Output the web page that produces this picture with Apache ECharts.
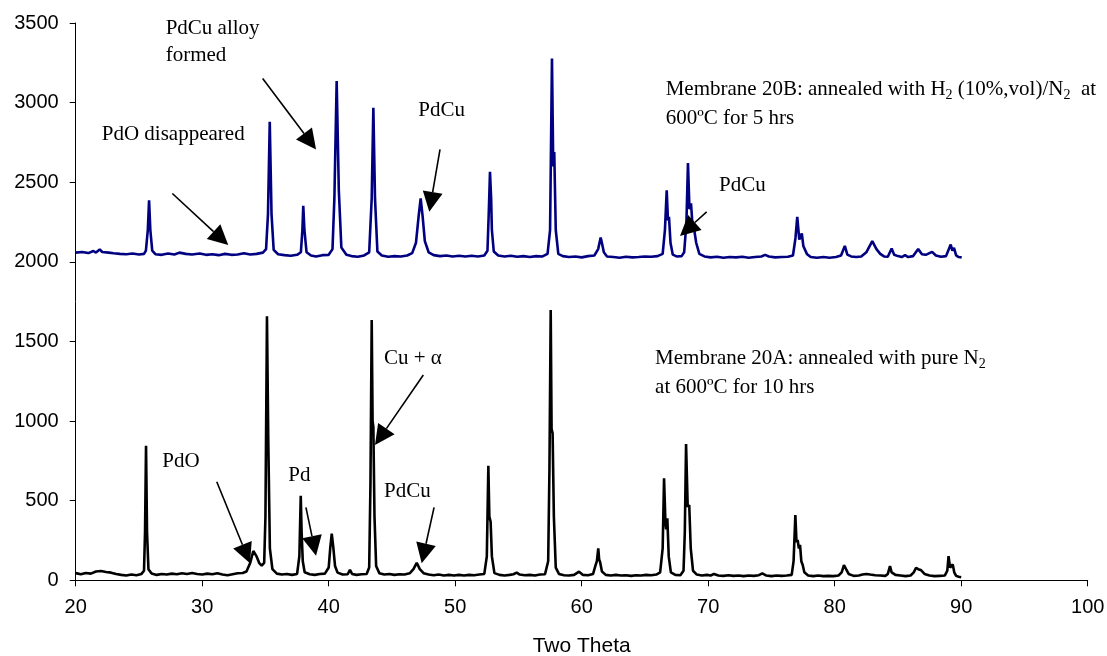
<!DOCTYPE html>
<html>
<head>
<meta charset="utf-8">
<script src="https://cdn.jsdelivr.net/npm/echarts@6/dist/echarts.min.js"></script>
<style>
  html, body { margin: 0; padding: 0; background: #fff; }
  #chart { width: 1107px; height: 656px; }
</style>
</head>
<body>
<div id="chart"></div>
<script>
// XRD patterns of the two PdCu membranes: [two theta, counts]
const membrane20B = [
  [20, 2058], [20.5, 2062], [21, 2055], [21.4, 2068], [21.6, 2058], [21.9, 2078], [22.1, 2062], [22.6, 2058],
  [23, 2054], [23.5, 2050], [24, 2048], [24.5, 2052], [25, 2046], [25.4, 2050],
  [25.55, 2070], [25.7, 2200], [25.8, 2387], [25.9, 2200], [26.05, 2070], [26.3, 2048],
  [26.8, 2044], [27.3, 2052], [27.8, 2046], [28.2, 2058], [28.7, 2050], [29.2, 2046], [29.8, 2052], [30.3, 2044],
  [30.8, 2048], [31.3, 2042], [31.8, 2050], [32.3, 2044], [32.8, 2046], [33.3, 2054], [33.8, 2046], [34.3, 2050],
  [34.8, 2058], [35.05, 2080],
  [35.2, 2300], [35.34, 2879], [35.48, 2300], [35.65, 2075], [36, 2048], [36.5, 2042], [37, 2038], [37.5, 2044], [37.8, 2060],
  [37.92, 2200], [37.99, 2352], [38.08, 2200], [38.25, 2060], [38.6, 2040], [39, 2034], [39.5, 2042], [40, 2044], [40.3, 2080],
  [40.45, 2400], [40.63, 3136], [40.8, 2450], [41, 2090], [41.4, 2045], [41.8, 2036], [42.3, 2032], [42.8, 2040], [43.2, 2060],
  [43.4, 2400], [43.53, 2967], [43.66, 2400], [43.85, 2065], [44.2, 2040], [44.7, 2032], [45.2, 2036], [45.7, 2034],
  [46.2, 2040], [46.6, 2055], [46.9, 2120],
  [47.1, 2280], [47.27, 2398], [47.42, 2290], [47.6, 2130], [47.9, 2060], [48.3, 2042], [48.8, 2036], [49.3, 2040],
  [49.8, 2034], [50.3, 2038], [50.8, 2034], [51.3, 2038], [51.8, 2034], [52.3, 2040], [52.55, 2070],
  [52.65, 2300], [52.75, 2565], [52.84, 2400], [52.9, 2200], [53.05, 2065], [53.4, 2040], [53.9, 2034], [54.4, 2038],
  [54.9, 2032], [55.4, 2036], [55.9, 2030], [56.4, 2036], [56.9, 2034], [57.3, 2050], [57.5, 2200],
  [57.65, 3277], [57.75, 2600], [57.83, 2690], [57.95, 2200], [58.15, 2050], [58.5, 2036], [59, 2030], [59.5, 2034],
  [60, 2028], [60.5, 2036], [61, 2040], [61.3, 2080],
  [61.5, 2153], [61.62, 2110], [61.75, 2060], [62, 2034], [62.5, 2030], [63, 2026], [63.5, 2032], [64, 2028],
  [64.5, 2030], [65, 2034], [65.5, 2032], [66, 2036], [66.4, 2050], [66.58, 2200],
  [66.72, 2450], [66.82, 2260], [66.9, 2283], [67.02, 2120], [67.2, 2045], [67.5, 2034], [67.9, 2036], [68.1, 2060], [68.28, 2250],
  [68.4, 2621], [68.52, 2330], [68.64, 2367], [68.76, 2230], [68.9, 2199], [69.05, 2120], [69.3, 2050], [69.7, 2034],
  [70.2, 2028], [70.7, 2032], [71.2, 2026], [71.7, 2030], [72.2, 2028], [72.7, 2032], [73.2, 2026], [73.7, 2030],
  [74.2, 2034], [74.5, 2044], [74.8, 2034], [75.3, 2028], [75.8, 2030], [76.3, 2032], [76.7, 2040], [76.9, 2150],
  [77.04, 2283], [77.2, 2140], [77.4, 2178], [77.52, 2100], [77.65, 2109], [77.8, 2050], [78.1, 2030], [78.6, 2026],
  [79.1, 2030], [79.6, 2026], [80.1, 2030], [80.5, 2040], [80.8, 2100], [81.0, 2045], [81.3, 2034], [81.7, 2030],
  [82.1, 2034], [82.5, 2060], [82.97, 2130], [83.3, 2080], [83.6, 2050], [83.9, 2034], [84.2, 2032], [84.5, 2084],
  [84.7, 2045], [85, 2036], [85.3, 2030], [85.56, 2042], [85.8, 2030], [86.2, 2036], [86.6, 2080], [86.9, 2048],
  [87.2, 2044], [87.7, 2063], [88, 2040], [88.4, 2032], [88.8, 2036], [89.17, 2109], [89.3, 2070], [89.43, 2088],
  [89.6, 2040], [89.8, 2030], [90.04, 2028]
];

const membrane20A = [
  [20, 45], [20.4, 38], [20.8, 46], [21.2, 42], [21.6, 55], [22, 58], [22.4, 52], [22.8, 48], [23.2, 40], [23.6, 34],
  [24, 30], [24.4, 36], [24.8, 32], [25.2, 40], [25.4, 60],
  [25.48, 300], [25.56, 845], [25.64, 300], [25.75, 70], [26, 42], [26.4, 34], [26.8, 40], [27.2, 36], [27.6, 42],
  [28, 38], [28.4, 44], [28.8, 40], [29.2, 46], [29.6, 40], [30, 36], [30.4, 42], [30.8, 38], [31.2, 44], [31.6, 36],
  [32, 32], [32.4, 38], [32.8, 44], [33.2, 46], [33.5, 55], [33.8, 110],
  [34.04, 184], [34.3, 150], [34.5, 110], [34.7, 92], [34.9, 110], [35.0, 400],
  [35.12, 1659], [35.22, 900], [35.35, 200], [35.55, 70], [35.9, 42], [36.3, 36], [36.7, 40], [37.1, 34], [37.5, 40], [37.68, 150],
  [37.79, 531], [37.86, 300], [37.95, 120], [38.1, 50], [38.5, 38], [38.9, 34], [39.3, 40], [39.7, 42], [40.0, 80], [40.12, 200],
  [40.24, 293], [40.36, 210], [40.5, 90], [40.7, 48], [41.1, 36], [41.5, 38], [41.68, 65], [41.85, 40], [42.2, 34],
  [42.6, 38], [43.0, 40], [43.2, 80], [43.3, 600],
  [43.4, 1634], [43.47, 1000], [43.53, 964], [43.62, 400], [43.75, 90], [44, 45], [44.4, 36], [44.8, 40], [45.2, 34],
  [45.6, 38], [46, 36], [46.4, 44], [46.7, 70], [46.96, 110], [47.2, 70], [47.5, 45], [47.9, 36], [48.3, 32], [48.7, 36],
  [49.1, 30], [49.5, 34], [49.9, 30], [50.3, 34], [50.7, 30], [51.1, 34], [51.5, 32], [51.9, 36], [52.3, 40], [52.5, 150],
  [52.62, 720], [52.7, 400], [52.8, 368], [52.9, 150], [53.1, 45], [53.5, 34], [53.9, 30], [54.3, 34], [54.6, 38],
  [54.86, 48], [55.1, 36], [55.5, 32], [55.9, 34], [56.3, 30], [56.7, 36], [57.1, 38], [57.35, 120], [57.45, 700],
  [57.55, 1697], [57.62, 950], [57.7, 923], [57.8, 400], [57.95, 80], [58.2, 40], [58.6, 32], [59, 30], [59.4, 34],
  [59.79, 54], [60.1, 34], [60.5, 32], [60.9, 40], [61.1, 96], [61.2, 120],
  [61.31, 201], [61.38, 130], [61.45, 117], [61.6, 55], [61.9, 34], [62.3, 30], [62.7, 34], [63.1, 30], [63.5, 32],
  [63.9, 28], [64.3, 32], [64.7, 30], [65.1, 34], [65.5, 32], [65.9, 36], [66.2, 50], [66.4, 200],
  [66.51, 640], [66.62, 360], [66.68, 320], [66.77, 389], [66.88, 150], [67.05, 50], [67.4, 34], [67.8, 32], [68.05, 60], [68.15, 300],
  [68.25, 856], [68.38, 460], [68.5, 473], [68.62, 200], [68.8, 60], [69.1, 36], [69.5, 30], [69.9, 34], [70.2, 30],
  [70.46, 40], [70.8, 30], [71.2, 28], [71.6, 32], [72, 28], [72.4, 30], [72.8, 26], [73.2, 30], [73.6, 28], [74, 32],
  [74.28, 44], [74.6, 30], [75, 26], [75.4, 30], [75.8, 28], [76.2, 30], [76.6, 34], [76.75, 120],
  [76.89, 410], [76.98, 240], [77.07, 253], [77.17, 200], [77.26, 222], [77.36, 120], [77.47, 96], [77.6, 50], [77.9, 30],
  [78.3, 26], [78.7, 30], [79.1, 26], [79.5, 28], [79.9, 26], [80.3, 30], [80.55, 50], [80.73, 96], [80.9, 70], [81.1, 40],
  [81.5, 28], [81.9, 30], [82.2, 36], [82.5, 40], [82.8, 36], [83.2, 32], [83.6, 30], [84, 28], [84.2, 40], [84.37, 90],
  [84.5, 50], [84.6, 54], [84.8, 34], [85.2, 30], [85.6, 26], [86, 30], [86.25, 50], [86.43, 79], [86.6, 70], [86.8, 65],
  [87.1, 40], [87.5, 30], [87.9, 26], [88.3, 28], [88.7, 30], [88.9, 60], [89.0, 152], [89.12, 80], [89.22, 70],
  [89.33, 100], [89.45, 50], [89.6, 28], [89.8, 22], [90, 19]
];

// Axis ranges
const xRange = [20, 100, 10];
const yRange = [0, 3500, 500];
const xTitle = 'Two Theta';

// Annotation text: [text, two theta, counts at baseline]
const notes = [
  ['PdCu alloy', 27.11, 3423],
  ['formed', 27.11, 3249],
  ['PdO disappeared', 22.06, 2753],
  ['PdCu', 47.08, 2906],
  ['Membrane 20B: annealed with H{s|2} (10%,vol)/N{s|2}  at', 66.64, 3036],
  ['600ºC for 5 hrs', 66.64, 2858],
  ['PdCu', 70.85, 2433],
  ['Membrane 20A: annealed with pure N{s|2}', 65.8, 1351],
  ['at 600ºC for 10 hrs', 65.8, 1168],
  ['Cu + α', 44.37, 1351],
  ['PdCu', 44.37, 515],
  ['PdO', 26.85, 703],
  ['Pd', 36.81, 613]
];

// Pointer arrows: [from x, from y, to x, to y]
const arrows = [
  [34.78, 3151, 39.0, 2706],
  [27.64, 2429, 32.06, 2105],
  [48.8, 2706, 47.95, 2314],
  [69.88, 2314, 67.77, 2163],
  [47.48, 1289, 43.66, 849],
  [48.33, 458, 47.35, 107],
  [31.15, 619, 33.78, 107],
  [38.2, 458, 39.0, 154]
];

const chart = echarts.init(document.getElementById('chart'), null, { renderer: 'canvas' });

const axisFont = { fontFamily: '"Liberation Sans", Arial, sans-serif', fontSize: 20, color: '#000' };
const plain = v => String(v);

chart.setOption({
  animation: false,
  backgroundColor: '#fff',
  grid: { left: 75.7, right: 19.3, top: 23, bottom: 75.7, containLabel: false, outerBoundsMode: 'none' },
  xAxis: {
    type: 'value',
    min: xRange[0], max: xRange[1], interval: xRange[2],
    name: xTitle, nameLocation: 'middle', nameGap: 55,
    nameTextStyle: { fontFamily: axisFont.fontFamily, fontSize: 21, color: '#000' },
    axisLine: { show: true, onZero: false, lineStyle: { color: '#000', width: 1 } },
    axisTick: { show: true, inside: false, length: 6, lineStyle: { color: '#000' } },
    axisLabel: Object.assign({ margin: 17, formatter: plain }, axisFont),
    splitLine: { show: false }
  },
  yAxis: {
    type: 'value',
    min: yRange[0], max: yRange[1], interval: yRange[2],
    axisLine: { show: true, lineStyle: { color: '#000', width: 1 } },
    axisTick: { show: true, inside: false, length: 6, lineStyle: { color: '#000' } },
    axisLabel: Object.assign({ margin: 17, formatter: plain }, axisFont),
    splitLine: { show: false }
  },
  series: [
    {
      name: 'Membrane 20B', type: 'line', data: membrane20B,
      showSymbol: false, symbol: 'none',
      lineStyle: { color: '#000080', width: 2.6 }, z: 2
    },
    {
      name: 'Membrane 20A', type: 'line', data: membrane20A,
      showSymbol: false, symbol: 'none',
      lineStyle: { color: '#000', width: 2.6 }, z: 2
    }
  ]
});

// Annotations: text and arrows placed from data coordinates
const serif = '"Liberation Serif", "Times New Roman", serif';
const FS = 21;
const graphics = [];
notes.forEach(([text, x, y]) => {
  const p = chart.convertToPixel({ gridIndex: 0 }, [x, y]);
  graphics.push({
    type: 'text', z: 10,
    style: {
      text: text, x: p[0], y: p[1] - 0.34 * FS,
      font: FS + 'px ' + serif, fill: '#000',
      align: 'left', verticalAlign: 'middle', lineHeight: 26,
      rich: { s: { fontSize: 14, fontFamily: serif, lineHeight: 14, verticalAlign: 'bottom', fill: '#000' } }
    }
  });
});

const HEAD_L = 20, HEAD_W = 10;
arrows.forEach(([x1, y1, x2, y2]) => {
  const a = chart.convertToPixel({ gridIndex: 0 }, [x1, y1]);
  const b = chart.convertToPixel({ gridIndex: 0 }, [x2, y2]);
  const dx = b[0] - a[0], dy = b[1] - a[1];
  const len = Math.hypot(dx, dy);
  const ux = dx / len, uy = dy / len;
  const bx = b[0] - ux * HEAD_L, by = b[1] - uy * HEAD_L;
  graphics.push({
    type: 'line', z: 10,
    shape: { x1: a[0], y1: a[1], x2: bx, y2: by },
    style: { stroke: '#000', lineWidth: 1.6 }
  });
  graphics.push({
    type: 'polygon', z: 10,
    shape: { points: [[b[0], b[1]], [bx - uy * HEAD_W, by + ux * HEAD_W], [bx + uy * HEAD_W, by - ux * HEAD_W]] },
    style: { fill: '#000' }
  });
});

chart.setOption({ graphic: graphics });
</script>
</body>
</html>
